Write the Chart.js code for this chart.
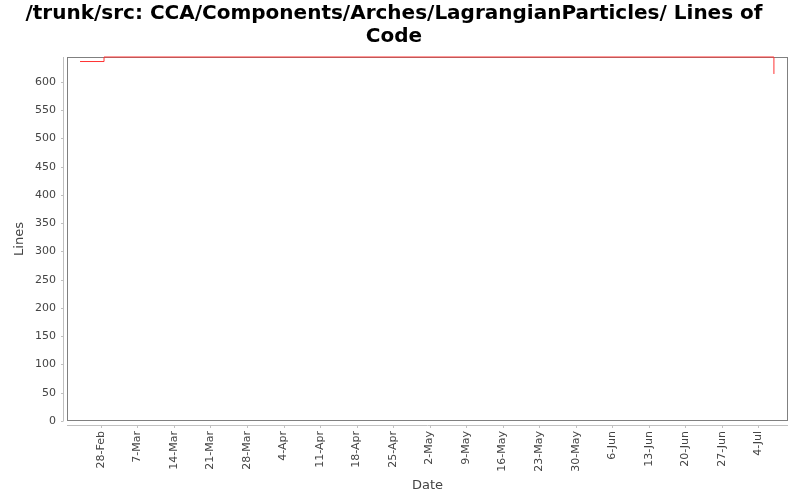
<!DOCTYPE html>
<html>
<head>
<meta charset="utf-8">
<script src="https://cdn.jsdelivr.net/npm/chart.js@4"></script>
<style>
  html, body { margin: 0; padding: 0; background: #fff; }
  #wrap { width: 800px; height: 500px; }
</style>
</head>
<body>
<div id="wrap"><canvas id="loc"></canvas></div>
<script>
// x values are days counted from 28-Feb
const titleLines = ['/trunk/src: CCA/Components/Arches/LagrangianParticles/ Lines of', 'Code'];
const pointDays = [-4, 0.6, 129];
const lineCounts = [636, 644, 614];
const tickDays = [0, 7, 14, 21, 28, 35, 42, 49, 56, 63, 70, 77, 84, 91, 98, 105, 112, 119, 126];
const tickLabels = ['28-Feb', '7-Mar', '14-Mar', '21-Mar', '28-Mar', '4-Apr', '11-Apr', '18-Apr', '25-Apr',
    '2-May', '9-May', '16-May', '23-May', '30-May', '6-Jun', '13-Jun', '20-Jun', '27-Jun', '4-Jul'];
const yTicks = [0, 50, 100, 150, 200, 250, 300, 350, 400, 450, 500, 550, 600];

const FONT = 'DejaVu Sans, sans-serif';

// plot frame + offset axis lines, drawn like the original
const framePlugin = {
    id: 'frame',
    beforeDatasetsDraw(chart) {
        const { ctx, chartArea: a, scales } = chart;
        ctx.save();
        ctx.lineWidth = 1;
        // y axis line and ticks
        ctx.strokeStyle = '#c0c0c0';
        ctx.beginPath();
        ctx.moveTo(a.left - 3.5, a.top);
        ctx.lineTo(a.left - 3.5, a.bottom);
        yTicks.forEach(v => {
            const y = Math.round(scales.y.getPixelForValue(v)) + 0.5;
            ctx.moveTo(a.left - 6, y);
            ctx.lineTo(a.left - 3.5, y);
        });
        // x axis line and ticks
        ctx.moveTo(a.left, a.bottom + 4.5);
        ctx.lineTo(a.right, a.bottom + 4.5);
        tickDays.forEach(v => {
            const x = Math.round(scales.x.getPixelForValue(v)) + 0.5;
            ctx.moveTo(x, a.bottom + 4.5);
            ctx.lineTo(x, a.bottom + 7);
        });
        ctx.stroke();
        // plot border
        ctx.strokeStyle = '#808080';
        ctx.strokeRect(a.left + 0.5, a.top + 0.5, a.right - a.left - 1, a.bottom - a.top - 1);
        ctx.restore();
    }
};

const ctx = document.getElementById('loc');
new Chart(ctx, {
    type: 'line',
    data: {
        datasets: [{
            data: pointDays.map((d, i) => ({ x: d, y: lineCounts[i] })),
            borderColor: '#ff3333',
            borderWidth: 1,
            stepped: true,
            pointRadius: 0,
            fill: false,
            clip: 3
        }]
    },
    options: {
        responsive: true,
        maintainAspectRatio: false,
        animation: false,
        layout: { padding: { left: 0, right: 12, top: 0, bottom: 0 } },
        plugins: {
            legend: { display: false },
            tooltip: { enabled: false },
            title: {
                display: true,
                text: titleLines,
                color: '#000',
                font: { family: FONT, size: 20, weight: 'bold', lineHeight: 1.15 },
                padding: { top: 2, bottom: 9 }
            }
        },
        scales: {
            x: {
                type: 'linear',
                min: -6.5,
                max: 131.7,
                grid: { display: false, drawTicks: false },
                border: { display: false },
                afterBuildTicks: s => { s.ticks = tickDays.map(v => ({ value: v })); },
                afterFit: s => { s.height = 79; },
                ticks: {
                    autoSkip: false,
                    minRotation: 90,
                    maxRotation: 90,
                    padding: 10,
                    color: '#444',
                    font: { family: FONT, size: 11 },
                    callback: (v, i) => tickLabels[i]
                },
                title: {
                    display: true,
                    text: 'Date',
                    color: '#444',
                    font: { family: FONT, size: 13 },
                    padding: { top: 0, bottom: 7 }
                }
            },
            y: {
                min: 0,
                max: 644,
                grid: { display: false, drawTicks: false },
                border: { display: false },
                afterBuildTicks: s => { s.ticks = yTicks.map(v => ({ value: v })); },
                afterFit: s => { s.width = 67; },
                ticks: {
                    padding: 11,
                    color: '#444',
                    font: { family: FONT, size: 11 }
                },
                title: {
                    display: true,
                    text: 'Lines',
                    color: '#444',
                    font: { family: FONT, size: 13 },
                    padding: { top: 12, bottom: 0 }
                }
            }
        }
    },
    plugins: [framePlugin]
});
</script>
</body>
</html>
